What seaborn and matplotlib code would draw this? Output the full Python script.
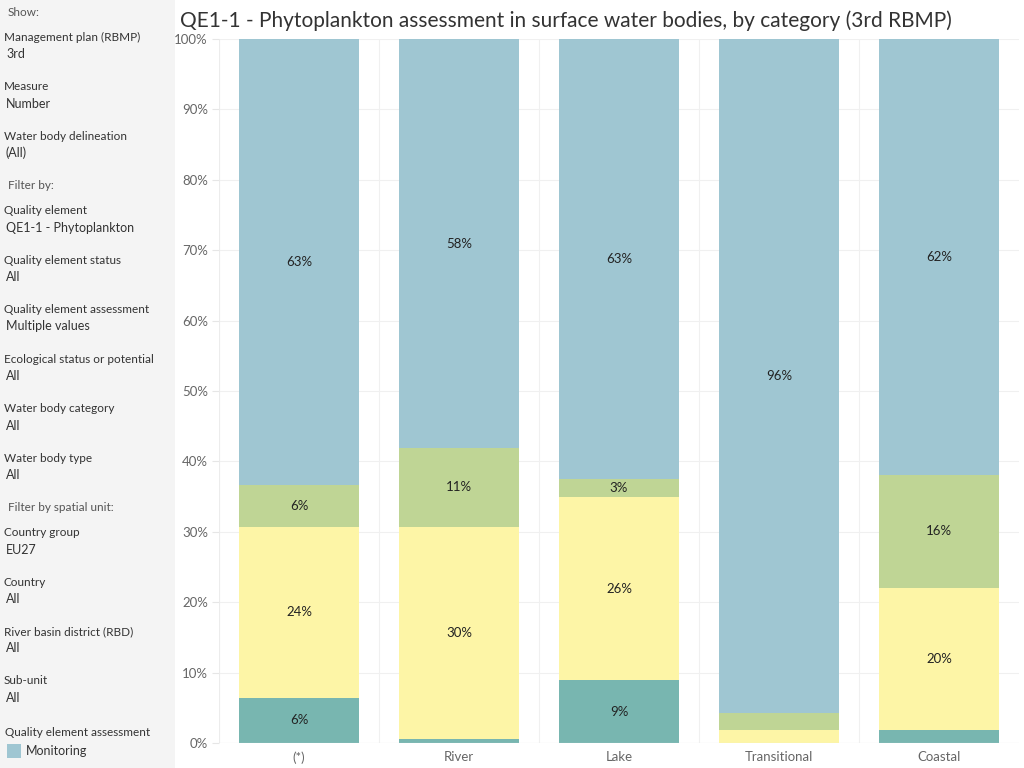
import matplotlib.pyplot as plt
import matplotlib.patches as mpatches
import seaborn as sns
import pandas as pd

# data (percent of water bodies, stacked bottom -> top)
categories = ["(*)", "River", "Lake", "Transitional", "Coastal"]
teal = [6.4, 0.6, 8.9, 0.0, 1.8]
yellow = [24.3, 30.1, 26.0, 1.8, 20.2]
green = [5.9, 11.2, 2.6, 2.4, 16.1]
blue = [63.4, 58.1, 62.5, 95.8, 61.9]
labels = {
    "teal": ["6%", "", "9%", "", ""],
    "yellow": ["24%", "30%", "26%", "", "20%"],
    "green": ["6%", "11%", "3%", "", "16%"],
    "blue": ["63%", "58%", "63%", "96%", "62%"],
}
colors = {"teal": "#78b6b0", "yellow": "#fdf5a6", "green": "#bfd595", "blue": "#9fc6d2"}

sidebar = [
    ("Show:", "", True),
    ("Management plan (RBMP)", "3rd", False),
    ("Measure", "Number", False),
    ("Water body delineation", "(All)", False),
    ("Filter by:", "", True),
    ("Quality element", "QE1-1 - Phytoplankton", False),
    ("Quality element status", "All", False),
    ("Quality element assessment", "Multiple values", False),
    ("Ecological status or potential", "All", False),
    ("Water body category", "All", False),
    ("Water body type", "All", False),
    ("Filter by spatial unit:", "", True),
    ("Country group", "EU27", False),
    ("Country", "All", False),
    ("River basin district (RBD)", "All", False),
    ("Sub-unit", "All", False),
]

if __name__ == "__main__":
    sns.set_style("white")
    plt.rcParams['font.family'] = ['Lato', 'DejaVu Sans']

    order = ["teal", "yellow", "green", "blue"]
    segs = {"teal": teal, "yellow": yellow, "green": green, "blue": blue}
    cum = {}
    running = [0.0] * len(categories)
    for k in order:
        running = [r + v for r, v in zip(running, segs[k])]
        cum[k] = list(running)

    fig = plt.figure(figsize=(10.24, 7.68), dpi=100)
    fig.patch.set_facecolor("white")
    fig.patches.append(mpatches.Rectangle((0, 0), 175 / 1024, 1, transform=fig.transFigure,
                                          facecolor="#f4f4f4", edgecolor="none", zorder=0))

    ax = fig.add_axes([219 / 1024, 25 / 768, 800 / 1024, 704 / 768])

    # draw cumulative bars from top segment down so each covers the previous
    for k in reversed(order):
        d = pd.DataFrame({"Category": categories, "value": cum[k]})
        sns.barplot(x="Category", y="value", data=d, color=colors[k], width=0.75,
                    saturation=1, linewidth=0, ax=ax, zorder=3)

    # segment labels
    for k in order:
        for i, c in enumerate(categories):
            lab = labels[k][i]
            if lab:
                y = cum[k][i] - segs[k][i] / 2
                ax.text(i, y, lab, ha="center", va="center", fontsize=9.5, color="#222222", zorder=5)

    ax.set_ylim(0, 100)
    ax.set_xlim(-0.5, len(categories) - 0.5)
    ax.set_yticks(range(0, 101, 10))
    ax.set_yticklabels([f"{t}%" for t in range(0, 101, 10)])
    ax.set_xlabel("")
    ax.set_ylabel("")
    ax.tick_params(axis="y", labelsize=9.5, labelcolor="#666666", color="#e6e6e6",
                   left=True, length=5, width=0.8, pad=3)
    ax.tick_params(axis="x", labelsize=9.5, colors="#666666", length=0, pad=6)
    for s in ax.spines.values():
        s.set_visible(False)
    ax.grid(axis="y", color="#f0f0f0", linewidth=0.8, zorder=0)
    for b in [0.5, 1.5, 2.5, 3.5]:
        ax.axvline(b, color="#f0f0f0", linewidth=0.8, zorder=0)
    ax.axvline(-0.5, color="#ececec", linewidth=0.8, zorder=0)
    ax.axhline(0, color="#e8e8e8", linewidth=0.8, zorder=4)

    fig.text(180 / 1024, 1 - 21 / 768,
             "QE1-1 - Phytoplankton assessment in surface water bodies, by category (3rd RBMP)",
             fontsize=15, color="#333333", va="center", ha="left")

    # sidebar filters
    y = 12
    for head, val, section in sidebar:
        if section:
            fig.text(8 / 1024, 1 - y / 768, head, fontsize=8.5, color="#555555", va="center")
            y += 25
        else:
            fig.text(4 / 1024, 1 - y / 768, head, fontsize=8.5, color="#333333", va="center")
            fig.text(6 / 1024, 1 - (y + 17) / 768, val, fontsize=9, color="#333333", va="center")
            y += 49.5
    fig.text(5 / 1024, 1 - 733 / 768, "Quality element assessment", fontsize=8.5,
             color="#333333", va="center")
    fig.patches.append(mpatches.Rectangle((7 / 1024, 1 - 758 / 768), 14 / 1024, 14 / 768,
                                          transform=fig.transFigure, facecolor=colors["blue"],
                                          edgecolor="none"))
    fig.text(26 / 1024, 1 - 751 / 768, "Monitoring", fontsize=9, color="#333333", va="center")

    fig.savefig("out.png", dpi=100)
